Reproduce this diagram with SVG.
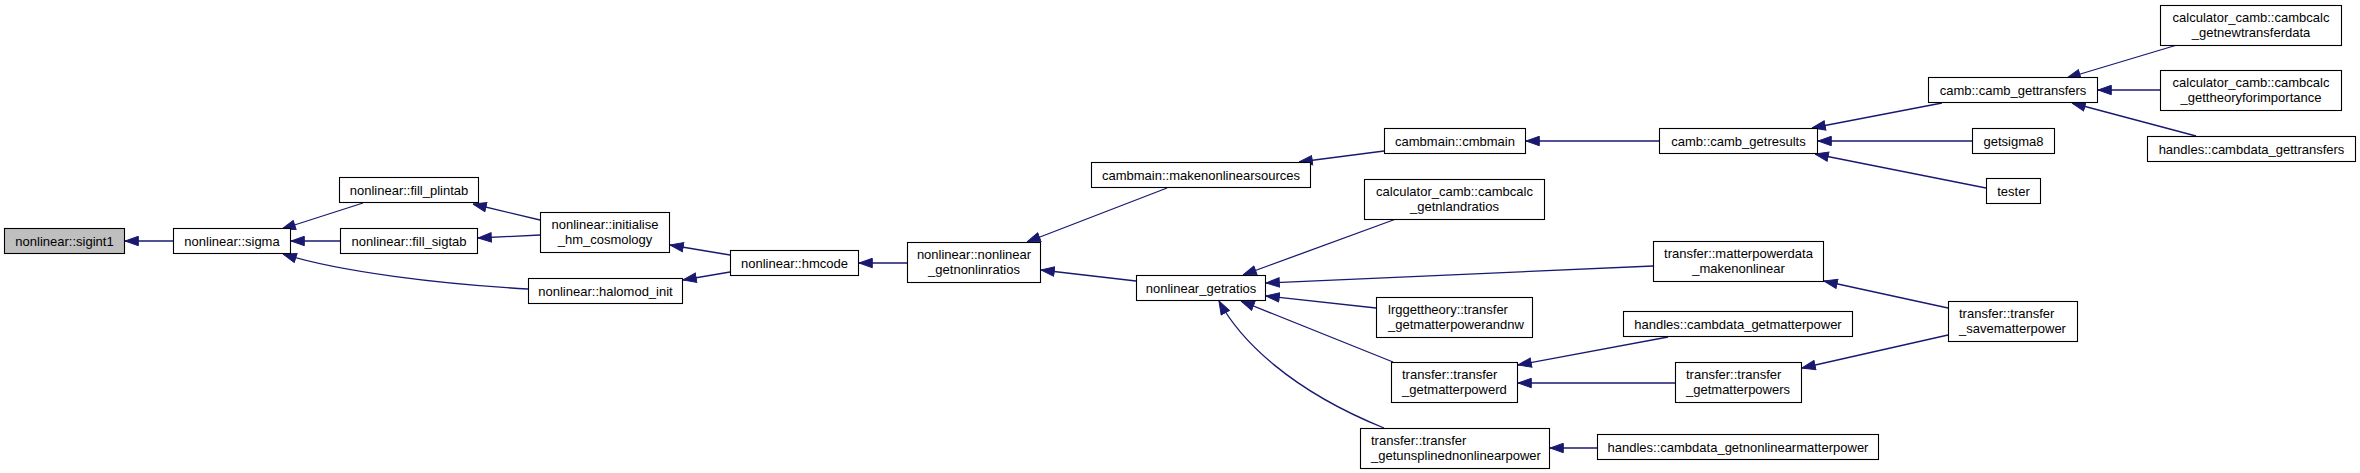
<svg xmlns="http://www.w3.org/2000/svg" width="2360" height="473" viewBox="0 0 2360 473">
<style>
.n rect{fill:#ffffff;stroke:#000000;stroke-width:1.1}
.n.g rect{fill:#bfbfbf}
.n text{font-family:"Liberation Sans",Arial,Helvetica,sans-serif;font-size:13px;fill:#000000;text-anchor:middle}
.n text.l{text-anchor:start}
.e path{fill:none;stroke:#191970;stroke-width:1.3;marker-start:url(#ah)}
</style>
<defs>
<marker id="ah" markerUnits="userSpaceOnUse" markerWidth="14" markerHeight="11" viewBox="0 -5.5 14 11" refX="0" refY="0" orient="auto">
<path d="M0,0 L13.3,-4.7 L13.3,4.7 Z" fill="#191970" stroke="#191970" stroke-width="1"/>
</marker>
</defs>
<rect x="0" y="0" width="2360" height="473" fill="#ffffff"/>
<g id="edges" class="e">
<path d="M125,241 L173,241"/>
<path d="M282,229 L363,203"/>
<path d="M291,241 L340,241"/>
<path d="M283,254 C340,272 440,284 528,289"/>
<path d="M473,204 L540,220"/>
<path d="M478,238 L540,235"/>
<path d="M670,245 L730,255"/>
<path d="M683,280 L730,272"/>
<path d="M859,263 L907,263"/>
<path d="M1027,242 L1167,188"/>
<path d="M1041,270 L1136,281"/>
<path d="M1299,162 L1384,151"/>
<path d="M1526,141 L1659,141"/>
<path d="M1243,275 L1396,219"/>
<path d="M1266,283 L1653,266"/>
<path d="M1266,296 L1376,308"/>
<path d="M1241,301 L1393,362"/>
<path d="M1219,301 C1240,340 1290,390 1384,428"/>
<path d="M1812,128 L1942,103"/>
<path d="M1818,141 L1972,141"/>
<path d="M1815,154 L1986,188"/>
<path d="M2067,78 L2177,45"/>
<path d="M2098,90 L2160,90"/>
<path d="M2072,103 L2196,136"/>
<path d="M1824,281 L1948,308"/>
<path d="M1802,368 L1948,335"/>
<path d="M1518,365 L1668,337"/>
<path d="M1518,383 L1675,383"/>
<path d="M1550,448 L1597,448"/>
</g>
<g id="n0" class="n g"><rect x="4.5" y="228.5" width="120" height="25"/><text x="64.5" y="245.5">nonlinear::sigint1</text></g>
<g id="n1" class="n"><rect x="173.5" y="228.5" width="117" height="25"/><text x="232" y="245.5">nonlinear::sigma</text></g>
<g id="n2" class="n"><rect x="339.5" y="177.5" width="139" height="25"/><text x="409" y="194.5">nonlinear::fill_plintab</text></g>
<g id="n3" class="n"><rect x="340.5" y="228.5" width="137" height="25"/><text x="409" y="245.5">nonlinear::fill_sigtab</text></g>
<g id="n4" class="n"><rect x="540.5" y="212.5" width="129" height="40"/><text x="605" y="229">nonlinear::initialise</text><text x="605" y="244">_hm_cosmology</text></g>
<g id="n5" class="n"><rect x="528.5" y="278.5" width="154" height="25"/><text x="605.5" y="295.5">nonlinear::halomod_init</text></g>
<g id="n6" class="n"><rect x="730.5" y="250.5" width="128" height="25"/><text x="794.5" y="267.5">nonlinear::hmcode</text></g>
<g id="n7" class="n"><rect x="907.5" y="242.5" width="133" height="40"/><text x="974" y="259">nonlinear::nonlinear</text><text x="974" y="274">_getnonlinratios</text></g>
<g id="n8" class="n"><rect x="1091.5" y="162.5" width="219" height="25"/><text x="1201" y="179.5">cambmain::makenonlinearsources</text></g>
<g id="n9" class="n"><rect x="1136.5" y="275.5" width="129" height="25"/><text x="1201" y="292.5">nonlinear_getratios</text></g>
<g id="n10" class="n"><rect x="1384.5" y="128.5" width="141" height="25"/><text x="1455" y="145.5">cambmain::cmbmain</text></g>
<g id="n11" class="n"><rect x="1364.5" y="179.5" width="180" height="40"/><text x="1454.5" y="196">calculator_camb::cambcalc</text><text x="1454.5" y="211">_getnlandratios</text></g>
<g id="n12" class="n"><rect x="1376.5" y="297.5" width="156" height="40"/><text class="l" x="1388" y="314">lrggettheory::transfer</text><text class="l" x="1388" y="329">_getmatterpowerandnw</text></g>
<g id="n13" class="n"><rect x="1391.5" y="362.5" width="126" height="40"/><text class="l" x="1402" y="379">transfer::transfer</text><text class="l" x="1402" y="394">_getmatterpowerd</text></g>
<g id="n14" class="n"><rect x="1360.5" y="428.5" width="189" height="40"/><text class="l" x="1371" y="445">transfer::transfer</text><text class="l" x="1371" y="460">_getunsplinednonlinearpower</text></g>
<g id="n15" class="n"><rect x="1659.5" y="128.5" width="158" height="25"/><text x="1738.5" y="145.5">camb::camb_getresults</text></g>
<g id="n16" class="n"><rect x="1653.5" y="241.5" width="170" height="40"/><text x="1738.5" y="258">transfer::matterpowerdata</text><text x="1738.5" y="273">_makenonlinear</text></g>
<g id="n17" class="n"><rect x="1623.5" y="311.5" width="229" height="25"/><text x="1738" y="328.5">handles::cambdata_getmatterpower</text></g>
<g id="n18" class="n"><rect x="1675.5" y="362.5" width="126" height="40"/><text class="l" x="1686" y="379">transfer::transfer</text><text class="l" x="1686" y="394">_getmatterpowers</text></g>
<g id="n19" class="n"><rect x="1597.5" y="434.5" width="281" height="25"/><text x="1738" y="451.5">handles::cambdata_getnonlinearmatterpower</text></g>
<g id="n20" class="n"><rect x="1928.5" y="77.5" width="169" height="25"/><text x="2013" y="94.5">camb::camb_gettransfers</text></g>
<g id="n21" class="n"><rect x="1972.5" y="128.5" width="82" height="25"/><text x="2013.5" y="145.5">getsigma8</text></g>
<g id="n22" class="n"><rect x="1986.5" y="178.5" width="54" height="25"/><text x="2013.5" y="195.5">tester</text></g>
<g id="n23" class="n"><rect x="1948.5" y="301.5" width="129" height="40"/><text class="l" x="1959" y="318">transfer::transfer</text><text class="l" x="1959" y="333">_savematterpower</text></g>
<g id="n24" class="n"><rect x="2160.5" y="5.5" width="181" height="40"/><text x="2251" y="22">calculator_camb::cambcalc</text><text x="2251" y="37">_getnewtransferdata</text></g>
<g id="n25" class="n"><rect x="2160.5" y="70.5" width="181" height="40"/><text x="2251" y="87">calculator_camb::cambcalc</text><text x="2251" y="102">_gettheoryforimportance</text></g>
<g id="n26" class="n"><rect x="2147.5" y="136.5" width="208" height="25"/><text x="2251.5" y="153.5">handles::cambdata_gettransfers</text></g>
</svg>
